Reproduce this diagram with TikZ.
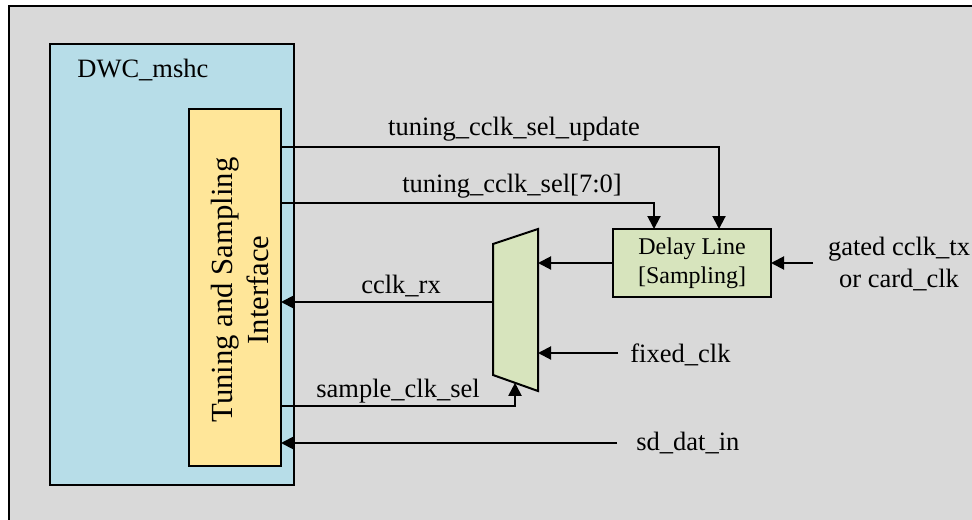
\documentclass[tikz,border=0pt]{standalone}
\usepackage{fontspec}
\setmainfont{Liberation Serif}
\usetikzlibrary{arrows.meta,calc}
\definecolor{bggray}{HTML}{D9D9D9}
\definecolor{coreblue}{HTML}{B7DDE8}
\definecolor{ifyellow}{HTML}{FFE699}
\definecolor{dlgreen}{HTML}{D7E4BD}

\begin{document}
\begin{tikzpicture}[x=0.5pt,y=-0.5pt,
  box/.style={draw=black,inner sep=0pt,outer sep=0pt,line width=0.7pt},
  wire/.style={line width=1pt},
  sig/.style={wire,-{Triangle[length=6.5pt,width=6.5pt]}},
  lbl/.style={font=\fontsize{13.25}{16}\selectfont,inner sep=0pt}]
\useasboundingbox (0,0) rectangle (972,519);
\clip (0,0) rectangle (972,519);

% background panel
\draw[fill=bggray,line width=1pt] (9,6) rectangle (1000,560);

% controller block and its interface
\node[box,fill=coreblue,minimum width=122pt,minimum height=220.5pt] (core) at (172,264.5) {};
\node[lbl,anchor=west] (corename) at (77,70) {DWC\_mshc};
\node[box,fill=ifyellow,minimum width=46pt,minimum height=178.5pt] (yel) at (235,287.5) {};
\node[rotate=90,align=center,inner sep=0pt,font=\fontsize{15.35}{18}\selectfont] (ifname) at (240,290) {Tuning and Sampling\\Interface};

% delay line
\node[box,line width=1pt,fill=dlgreen,minimum width=79pt,minimum height=34pt,align=center,
      font=\fontsize{12}{14.5}\selectfont] (delay) at (692,263) {Delay Line\\{}[Sampling]};

% clock multiplexer
\coordinate (mTL) at (493,244);
\coordinate (mTR) at (538,229);
\coordinate (mBR) at (538,391);
\coordinate (mBL) at (493,375);
\draw[fill=dlgreen,wire] (mTL) -- (mTR) -- (mBR) -- (mBL) -- cycle;
\coordinate (mSel) at ($(mBL)!0.489!(mBR)$);

% free signal ends
\coordinate (gin) at (813,263);
\coordinate (fin) at (618,353);
\coordinate (din) at (617,443);

% connectors
\draw[sig] (yel.east |- 0,147) -| (delay.north -| 719,0);
\draw[sig] (yel.east |- 0,203) -| (delay.north -| 654,0);
\draw[sig] (delay.west) -- (delay.west -| mTR);
\draw[sig] (gin) -- (delay.east);
\draw[sig] (fin) -- (fin -| mTR);
\draw[sig] (mTL |- 0,302) -- (yel.east |- 0,302);
\draw[sig] (yel.east |- 0,406) -| (mSel);
\draw[sig] (din) -- (din -| yel.east);

% signal labels
\node[lbl,anchor=base] (lupd) at (514,135) {tuning\_cclk\_sel\_update};
\node[lbl,anchor=base] (lsel) at (512,192) {tuning\_cclk\_sel[7:0]};
\node[lbl,anchor=base] (lrx) at (401,293) {cclk\_rx};
\node[lbl,anchor=base] (lsmp) at (398,397) {sample\_clk\_sel};
\node[lbl,anchor=base west] (lfix) at (630,362) {fixed\_clk};
\node[lbl,anchor=base west] (ldat) at (636,450) {sd\_dat\_in};
\node[lbl,anchor=base] (lg1) at (899,255) {gated cclk\_tx};
\node[lbl,anchor=base] (lg2) at (899,287) {or card\_clk};
\end{tikzpicture}
\end{document}
